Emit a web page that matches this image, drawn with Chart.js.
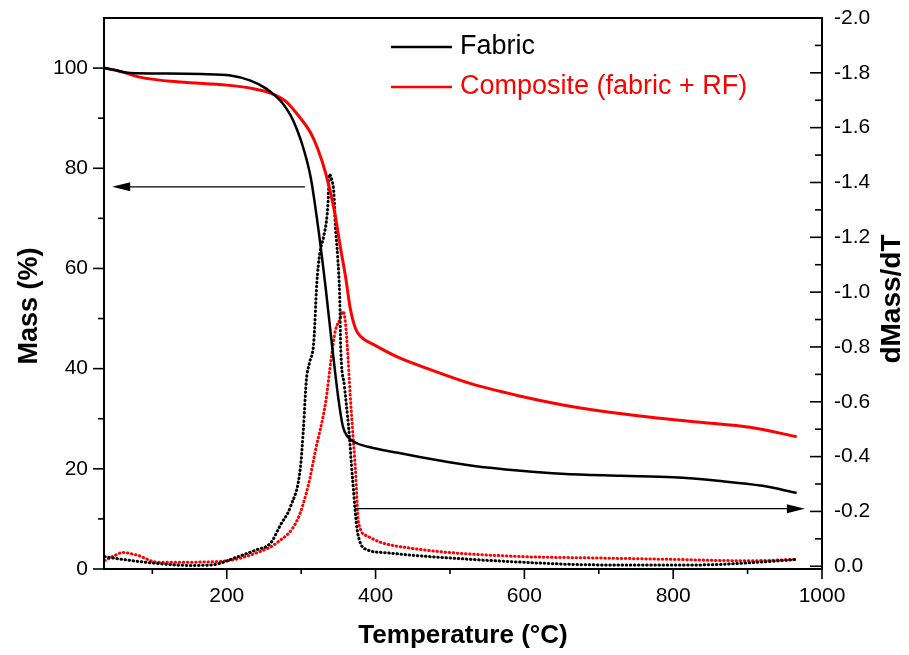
<!DOCTYPE html>
<html><head><meta charset="utf-8">
<script src="https://cdn.jsdelivr.net/npm/chart.js@4.4.1/dist/chart.umd.min.js"></script>
<style>html,body{margin:0;padding:0;background:#fff;}canvas{display:block;}</style>
</head><body>
<canvas id="c" width="909" height="655"></canvas>
<script>
// ---- data ----
const fabricMassT = [36,50,70,120,165,205,232,252,265,275,286,295,303,313,323,333,342,350,356,362,372,390,430,480,530,595,650,730,800,860,920,966];
const fabricMass  = [100,99.6,99.0,98.9,98.8,98.5,97.5,96,94.5,93,90.5,87.5,84,78,68,56,44,34,28.5,26.5,25.3,24.4,23.2,21.8,20.6,19.6,19.0,18.6,18.3,17.6,16.6,15.2];

const compMassT = [36,60,83,137,200,232,259,279,299,313,322,333,344,353,360,366,373,380,400,430,470,528,595,650,700,770,836,903,966];
const compMass  = [100,99.2,98.2,97.2,96.6,96,95,93.4,90,87,84,79,72,64,58,52,48,46.4,44.6,42.3,40,37,34.5,32.8,31.6,30.3,29.3,28.3,26.4];

const fabricDtgT = [36,60,100,150,180,215,240,259,272,286,299,303,307,311,317,321,325,330,334,336,338,341,344,346,349,352,353,358,364,369,376,389,411,450,500,595,700,836,917,966];
const fabricDtg  = [-0.035,-0.025,-0.012,-0.003,-0.005,-0.035,-0.06,-0.085,-0.15,-0.22,-0.36,-0.5,-0.68,-0.74,-0.82,-1.03,-1.14,-1.2,-1.26,-1.32,-1.43,-1.41,-1.36,-1.24,-1.13,-0.96,-0.81,-0.66,-0.5,-0.32,-0.12,-0.06,-0.05,-0.04,-0.03,-0.015,-0.005,-0.005,-0.015,-0.025];

const compDtgT = [36,50,60,80,107,150,200,241,268,295,310,319,333,340,346,352,356,359,362,366,369,373,377,389,407,450,500,600,700,800,900,966];
const compDtg  = [-0.02,-0.04,-0.05,-0.04,-0.015,-0.015,-0.02,-0.05,-0.087,-0.17,-0.3,-0.42,-0.6,-0.75,-0.86,-0.9,-0.93,-0.9,-0.8,-0.62,-0.5,-0.35,-0.16,-0.11,-0.087,-0.065,-0.05,-0.035,-0.03,-0.025,-0.02,-0.025];

const seriesNames = ['Fabric', 'Composite (fabric + RF)'];

// ---- ticks ----
const tempTicks  = [200,400,600,800,1000];
const tempMinor  = [100,300,500,700,900];
const massTicks  = [0,20,40,60,80,100];
const massMinor  = [10,30,50,70,90];
const dtgTicks   = [-2.0,-1.8,-1.6,-1.4,-1.2,-1.0,-0.8,-0.6,-0.4,-0.2,0.0];
const dtgMinor   = [-1.9,-1.7,-1.5,-1.3,-1.1,-0.9,-0.7,-0.5,-0.3,-0.1];

// ---- annotation arrows (temperature from, temperature to, value) ----
const massArrow = [305, 46, 76.3];
const dtgArrow  = [372, 977, -0.21];

const pts = (xs, ys) => xs.map((v, i) => ({x: v, y: ys[i]}));
const RED = '#ff0000';
const FAM = '"Liberation Sans", Arial, sans-serif';

const framePlugin = {
  id: 'frame',
  afterDatasetsDraw(chart) {
    const {ctx, chartArea: a, scales} = chart;
    const x = scales.x, y = scales.y, y1 = scales.y1;
    ctx.save();
    ctx.strokeStyle = '#000';
    ctx.lineWidth = 2;
    ctx.strokeRect(a.left, a.top, a.right - a.left, a.bottom - a.top);
    ctx.lineWidth = 1.6;
    const seg = (x1, y1_, x2, y2) => { ctx.beginPath(); ctx.moveTo(x1, y1_); ctx.lineTo(x2, y2); ctx.stroke(); };
    tempTicks.forEach(v => { const p = x.getPixelForValue(v); seg(p, a.bottom, p, a.bottom + 10); });
    tempMinor.forEach(v => { const p = x.getPixelForValue(v); seg(p, a.bottom, p, a.bottom + 5); });
    massTicks.forEach(v => { const p = y.getPixelForValue(v); seg(a.left - 11, p, a.left, p); });
    massMinor.forEach(v => { const p = y.getPixelForValue(v); seg(a.left - 6, p, a.left, p); });
    dtgTicks.forEach(v => { const p = y1.getPixelForValue(v); seg(a.right - 12, p, a.right, p); });
    dtgMinor.forEach(v => { const p = y1.getPixelForValue(v); seg(a.right - 7, p, a.right, p); });

    // arrows
    const arrow = (x0, x1, yy) => {
      ctx.lineWidth = 1.2;
      const dir = Math.sign(x1 - x0);
      seg(x0, yy, x1 - dir * 14, yy);
      ctx.beginPath();
      ctx.moveTo(x1, yy);
      ctx.lineTo(x1 - dir * 18, yy - 4.5);
      ctx.lineTo(x1 - dir * 18, yy + 4.5);
      ctx.closePath();
      ctx.fillStyle = '#000';
      ctx.fill();
    };
    arrow(x.getPixelForValue(massArrow[0]), x.getPixelForValue(massArrow[1]), y.getPixelForValue(massArrow[2]));
    arrow(x.getPixelForValue(dtgArrow[0]), x.getPixelForValue(dtgArrow[1]), y1.getPixelForValue(dtgArrow[2]));

    // legend
    const ds = chart.data.datasets;
    ctx.font = '27px ' + FAM;
    ctx.textBaseline = 'middle';
    [[0, 47], [1, 87]].forEach(([i, yy]) => {
      ctx.strokeStyle = ds[i].borderColor;
      ctx.lineWidth = 2.5;
      seg(391, yy, 452, yy);
      ctx.fillStyle = ds[i].borderColor;
      ctx.fillText(ds[i].label, 460, yy);
    });

    // vertical axis titles (both read bottom to top)
    const vtitle = (txt, cx, cy, size) => {
      ctx.save();
      ctx.translate(cx, cy);
      ctx.rotate(-Math.PI / 2);
      ctx.font = 'bold ' + size + 'px ' + FAM;
      ctx.fillStyle = '#000';
      ctx.textAlign = 'center';
      ctx.textBaseline = 'middle';
      ctx.fillText(txt, 0, 0);
      ctx.restore();
    };
    vtitle('Mass (%)', 30, 306, 27);
    vtitle('dMass/dT', 892, 299, 28);
    ctx.restore();
  }
};

const tickFont = {family: FAM, size: 21};
const titleFont = {family: FAM, size: 26, weight: 'bold', lineHeight: 1.2};
const noPadV = s => { s.paddingTop = 0; s.paddingBottom = 0; };

new Chart(document.getElementById('c'), {
  type: 'line',
  data: {
    datasets: [
      {label: seriesNames[0], data: pts(fabricMassT, fabricMass), yAxisID: 'y', borderColor: '#000000', borderWidth: 2.5, pointRadius: 0, cubicInterpolationMode: 'monotone'},
      {label: seriesNames[1], data: pts(compMassT, compMass), yAxisID: 'y', borderColor: RED, borderWidth: 3, pointRadius: 0, cubicInterpolationMode: 'monotone'},
      {label: seriesNames[0] + ' dM/dT', data: pts(fabricDtgT, fabricDtg), yAxisID: 'y1', borderColor: '#000000', borderWidth: 3, borderDash: [0.5, 3.6], borderCapStyle: 'round', pointRadius: 0, cubicInterpolationMode: 'monotone'},
      {label: seriesNames[1] + ' dM/dT', data: pts(compDtgT, compDtg), yAxisID: 'y1', borderColor: RED, borderWidth: 3, borderDash: [0.5, 3.6], borderCapStyle: 'round', pointRadius: 0, cubicInterpolationMode: 'monotone'}
    ]
  },
  options: {
    responsive: false,
    animation: false,
    devicePixelRatio: 1,
    layout: {padding: {top: 18, left: 0, right: 0, bottom: 0}},
    plugins: {legend: {display: false}, tooltip: {enabled: false}},
    scales: {
      x: {
        type: 'linear', min: 35, max: 1000,
        grid: {display: false, drawTicks: false}, border: {display: false},
        afterBuildTicks: s => { s.ticks = tempTicks.map(v => ({value: v})); },
        afterFit: s => { s.height = 86; s.paddingLeft = 0; s.paddingRight = 0; },
        ticks: {font: tickFont, color: '#000', padding: 15, maxRotation: 0, callback: v => String(v)},
        title: {display: true, text: 'Temperature (°C)', font: titleFont, color: '#000', padding: {top: 0, bottom: 4}}
      },
      y: {
        type: 'linear', position: 'left', min: 0, max: 110,
        grid: {display: false, drawTicks: false}, border: {display: false},
        afterBuildTicks: s => { s.ticks = massTicks.map(v => ({value: v})); },
        afterFit: s => { s.width = 104; noPadV(s); },
        ticks: {font: tickFont, color: '#000', padding: 16, callback: v => String(v)}
      },
      y1: {
        type: 'linear', position: 'right', min: -2.0, max: 0.01, reverse: true,
        grid: {display: false, drawTicks: false}, border: {display: false},
        afterBuildTicks: s => { s.ticks = dtgTicks.map(v => ({value: v})); },
        afterFit: s => { s.width = 87; noPadV(s); },
        ticks: {font: tickFont, color: '#000', padding: 12, callback: v => Number(v).toFixed(1)}
      }
    }
  },
  plugins: [framePlugin]
});
</script>
</body></html>
